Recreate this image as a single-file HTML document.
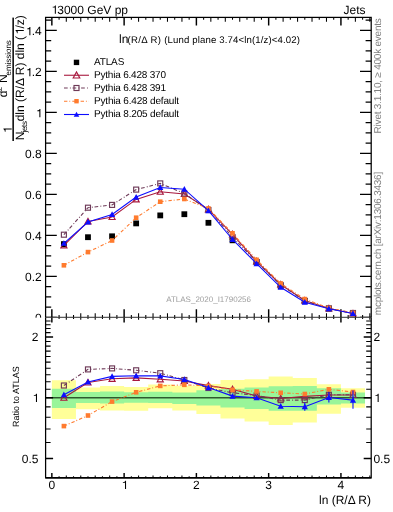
<!DOCTYPE html>
<html><head><meta charset="utf-8"><style>
html,body{margin:0;padding:0;background:#fff;width:393px;height:512px;overflow:hidden}
svg{display:block;will-change:transform}
svg,text{font-family:"Liberation Sans",sans-serif;text-rendering:geometricPrecision}
</style></head><body>
<svg width="393" height="512" viewBox="0 0 393 512">
<rect width="393" height="512" fill="#fff"/>
<path d="M720 0H900V1409H770C740 1290 640 1190 360 1170V1050H720Z" transform="translate(50.60,13.70) scale(0.005859,-0.005859)"/>
<text x="57.27" y="13.7" font-size="12">3000 GeV pp</text>
<text x="365.5" y="14.2" font-size="12" text-anchor="end">Jets</text>
<path d="M45.6 307.10H51.20M371.2 307.10H365.60M45.6 296.85H51.20M371.2 296.85H365.60M45.6 286.60H51.20M371.2 286.60H365.60M45.6 266.10H51.20M371.2 266.10H365.60M45.6 255.85H51.20M371.2 255.85H365.60M45.6 245.60H51.20M371.2 245.60H365.60M45.6 225.10H51.20M371.2 225.10H365.60M45.6 214.85H51.20M371.2 214.85H365.60M45.6 204.60H51.20M371.2 204.60H365.60M45.6 184.10H51.20M371.2 184.10H365.60M45.6 173.85H51.20M371.2 173.85H365.60M45.6 163.60H51.20M371.2 163.60H365.60M45.6 143.10H51.20M371.2 143.10H365.60M45.6 132.85H51.20M371.2 132.85H365.60M45.6 122.60H51.20M371.2 122.60H365.60M45.6 102.10H51.20M371.2 102.10H365.60M45.6 91.85H51.20M371.2 91.85H365.60M45.6 81.60H51.20M371.2 81.60H365.60M45.6 61.10H51.20M371.2 61.10H365.60M45.6 50.85H51.20M371.2 50.85H365.60M45.6 40.60H51.20M371.2 40.60H365.60M45.6 20.10H51.20M371.2 20.10H365.60M59.08 17.4V19.80M59.08 317.45V315.05M66.30 17.4V21.70M66.30 317.45V313.15M73.53 17.4V19.80M73.53 317.45V315.05M80.76 17.4V21.70M80.76 317.45V313.15M87.98 17.4V19.80M87.98 317.45V315.05M95.21 17.4V21.70M95.21 317.45V313.15M102.44 17.4V19.80M102.44 317.45V315.05M109.67 17.4V21.70M109.67 317.45V313.15M116.89 17.4V19.80M116.89 317.45V315.05M131.35 17.4V19.80M131.35 317.45V315.05M138.57 17.4V21.70M138.57 317.45V313.15M145.80 17.4V19.80M145.80 317.45V315.05M153.03 17.4V21.70M153.03 317.45V313.15M160.25 17.4V19.80M160.25 317.45V315.05M167.48 17.4V21.70M167.48 317.45V313.15M174.71 17.4V19.80M174.71 317.45V315.05M181.94 17.4V21.70M181.94 317.45V313.15M189.16 17.4V19.80M189.16 317.45V315.05M203.62 17.4V19.80M203.62 317.45V315.05M210.84 17.4V21.70M210.84 317.45V313.15M218.07 17.4V19.80M218.07 317.45V315.05M225.30 17.4V21.70M225.30 317.45V313.15M232.52 17.4V19.80M232.52 317.45V315.05M239.75 17.4V21.70M239.75 317.45V313.15M246.98 17.4V19.80M246.98 317.45V315.05M254.21 17.4V21.70M254.21 317.45V313.15M261.43 17.4V19.80M261.43 317.45V315.05M275.89 17.4V19.80M275.89 317.45V315.05M283.11 17.4V21.70M283.11 317.45V313.15M290.34 17.4V19.80M290.34 317.45V315.05M297.57 17.4V21.70M297.57 317.45V313.15M304.80 17.4V19.80M304.80 317.45V315.05M312.02 17.4V21.70M312.02 317.45V313.15M319.25 17.4V19.80M319.25 317.45V315.05M326.48 17.4V21.70M326.48 317.45V313.15M333.70 17.4V19.80M333.70 317.45V315.05M348.16 17.4V19.80M348.16 317.45V315.05M355.38 17.4V21.70M355.38 317.45V313.15M362.61 17.4V19.80M362.61 317.45V315.05M369.84 17.4V21.70M369.84 317.45V313.15" stroke="#000" stroke-width="1.05" fill="none"/>
<path d="M45.6 317.35H56.80M371.2 317.35H360.00M45.6 276.35H56.80M371.2 276.35H360.00M45.6 235.35H56.80M371.2 235.35H360.00M45.6 194.35H56.80M371.2 194.35H360.00M45.6 153.35H56.80M371.2 153.35H360.00M45.6 112.35H56.80M371.2 112.35H360.00M45.6 71.35H56.80M371.2 71.35H360.00M45.6 30.35H56.80M371.2 30.35H360.00M51.85 17.4V25.60M51.85 317.45V309.25M124.12 17.4V25.60M124.12 317.45V309.25M196.39 17.4V25.60M196.39 317.45V309.25M268.66 17.4V25.60M268.66 317.45V309.25M340.93 17.4V25.60M340.93 317.45V309.25" stroke="#000" stroke-width="1.45" fill="none"/>
<text x="41.8" y="322.30" font-size="12" text-anchor="end">0</text>
<text x="41.8" y="281.30" font-size="12" text-anchor="end">0.2</text>
<text x="41.8" y="240.30" font-size="12" text-anchor="end">0.4</text>
<text x="41.8" y="199.30" font-size="12" text-anchor="end">0.6</text>
<text x="41.8" y="158.30" font-size="12" text-anchor="end">0.8</text>
<path d="M720 0H900V1409H770C740 1290 640 1190 360 1170V1050H720Z" transform="translate(35.13,117.30) scale(0.005859,-0.005859)"/>
<path d="M720 0H900V1409H770C740 1290 640 1190 360 1170V1050H720Z" transform="translate(25.12,76.30) scale(0.005859,-0.005859)"/>
<text x="31.79" y="76.30" font-size="12">.2</text>
<path d="M720 0H900V1409H770C740 1290 640 1190 360 1170V1050H720Z" transform="translate(25.12,35.30) scale(0.005859,-0.005859)"/>
<text x="31.79" y="35.30" font-size="12">.4</text>
<text x="166.2" y="301.7" font-size="8" fill="#a0a0a0">ATLAS_2020_I1790256</text>
<clipPath id="cm"><rect x="45.6" y="17.4" width="325.60" height="300.05"/></clipPath>
<g clip-path="url(#cm)">
<rect x="60.99" y="241.20" width="5.8" height="5.8" fill="#000"/>
<rect x="85.08" y="234.30" width="5.8" height="5.8" fill="#000"/>
<rect x="109.17" y="233.40" width="5.8" height="5.8" fill="#000"/>
<rect x="133.26" y="220.50" width="5.8" height="5.8" fill="#000"/>
<rect x="157.35" y="212.50" width="5.8" height="5.8" fill="#000"/>
<rect x="181.44" y="211.30" width="5.8" height="5.8" fill="#000"/>
<rect x="205.53" y="219.90" width="5.8" height="5.8" fill="#000"/>
<rect x="229.62" y="237.40" width="5.8" height="5.8" fill="#000"/>
<rect x="253.72" y="259.10" width="5.8" height="5.8" fill="#000"/>
<rect x="277.81" y="283.10" width="5.8" height="5.8" fill="#000"/>
<rect x="301.90" y="297.90" width="5.8" height="5.8" fill="#000"/>
<rect x="325.99" y="305.60" width="5.8" height="5.8" fill="#000"/>
<rect x="350.08" y="310.30" width="5.8" height="5.8" fill="#000"/>
<path d="M63.89 245.40 L87.98 221.50 L112.08 217.00 L136.16 199.40 L160.25 191.70 L184.34 194.00 L208.43 209.40 L232.52 234.30 L256.62 261.40 L280.70 284.50 L304.80 300.50 L328.88 308.50 L352.98 313.50" stroke="#a8183e" stroke-width="1.1" fill="none"/>
<polygon points="60.84,247.93 66.94,247.93 63.89,242.31" fill="none" stroke="#a8183e" stroke-width="1.15"/>
<polygon points="84.94,224.03 91.03,224.03 87.98,218.41" fill="none" stroke="#a8183e" stroke-width="1.15"/>
<polygon points="109.03,219.53 115.12,219.53 112.08,213.91" fill="none" stroke="#a8183e" stroke-width="1.15"/>
<polygon points="133.11,201.93 139.22,201.93 136.16,196.31" fill="none" stroke="#a8183e" stroke-width="1.15"/>
<polygon points="157.20,194.23 163.31,194.23 160.25,188.61" fill="none" stroke="#a8183e" stroke-width="1.15"/>
<polygon points="181.29,196.53 187.39,196.53 184.34,190.91" fill="none" stroke="#a8183e" stroke-width="1.15"/>
<polygon points="205.38,211.93 211.48,211.93 208.43,206.31" fill="none" stroke="#a8183e" stroke-width="1.15"/>
<polygon points="229.47,236.83 235.57,236.83 232.52,231.21" fill="none" stroke="#a8183e" stroke-width="1.15"/>
<polygon points="253.56,263.93 259.67,263.93 256.62,258.31" fill="none" stroke="#a8183e" stroke-width="1.15"/>
<polygon points="277.65,287.03 283.75,287.03 280.70,281.41" fill="none" stroke="#a8183e" stroke-width="1.15"/>
<polygon points="301.75,303.03 307.85,303.03 304.80,297.41" fill="none" stroke="#a8183e" stroke-width="1.15"/>
<polygon points="325.83,311.03 331.94,311.03 328.88,305.41" fill="none" stroke="#a8183e" stroke-width="1.15"/>
<polygon points="349.93,316.03 356.03,316.03 352.98,310.41" fill="none" stroke="#a8183e" stroke-width="1.15"/>
<path d="M63.89 234.70 L87.98 207.70 L112.08 204.90 L136.16 189.60 L160.25 183.40 L184.34 193.50 L208.43 210.00 L232.52 237.00 L256.62 262.00 L280.70 285.00 L304.80 301.00 L328.88 308.50 L352.98 313.00" stroke="#6e3a58" stroke-width="1.1" fill="none" stroke-dasharray="3.7 2.2 0.9 1.75"/>
<rect x="61.39" y="232.20" width="5.0" height="5.0" fill="none" stroke="#6e3a58" stroke-width="1.15"/>
<rect x="85.48" y="205.20" width="5.0" height="5.0" fill="none" stroke="#6e3a58" stroke-width="1.15"/>
<rect x="109.58" y="202.40" width="5.0" height="5.0" fill="none" stroke="#6e3a58" stroke-width="1.15"/>
<rect x="133.66" y="187.10" width="5.0" height="5.0" fill="none" stroke="#6e3a58" stroke-width="1.15"/>
<rect x="157.75" y="180.90" width="5.0" height="5.0" fill="none" stroke="#6e3a58" stroke-width="1.15"/>
<rect x="181.84" y="191.00" width="5.0" height="5.0" fill="none" stroke="#6e3a58" stroke-width="1.15"/>
<rect x="205.93" y="207.50" width="5.0" height="5.0" fill="none" stroke="#6e3a58" stroke-width="1.15"/>
<rect x="230.02" y="234.50" width="5.0" height="5.0" fill="none" stroke="#6e3a58" stroke-width="1.15"/>
<rect x="254.12" y="259.50" width="5.0" height="5.0" fill="none" stroke="#6e3a58" stroke-width="1.15"/>
<rect x="278.20" y="282.50" width="5.0" height="5.0" fill="none" stroke="#6e3a58" stroke-width="1.15"/>
<rect x="302.30" y="298.50" width="5.0" height="5.0" fill="none" stroke="#6e3a58" stroke-width="1.15"/>
<rect x="326.38" y="306.00" width="5.0" height="5.0" fill="none" stroke="#6e3a58" stroke-width="1.15"/>
<rect x="350.48" y="310.50" width="5.0" height="5.0" fill="none" stroke="#6e3a58" stroke-width="1.15"/>
<path d="M63.89 265.30 L87.98 252.10 L112.08 240.50 L136.16 217.70 L160.25 201.70 L184.34 199.00 L208.43 208.50 L232.52 233.30 L256.62 259.80 L280.70 283.50 L304.80 299.10 L328.88 308.00 L352.98 313.00" stroke="#ff7b2e" stroke-width="1.1" fill="none" stroke-dasharray="3.4 1.9 0.9 2.1"/>
<rect x="61.59" y="263.00" width="4.6" height="4.6" fill="#ff7b2e"/>
<rect x="85.69" y="249.80" width="4.6" height="4.6" fill="#ff7b2e"/>
<rect x="109.78" y="238.20" width="4.6" height="4.6" fill="#ff7b2e"/>
<rect x="133.86" y="215.40" width="4.6" height="4.6" fill="#ff7b2e"/>
<rect x="157.95" y="199.40" width="4.6" height="4.6" fill="#ff7b2e"/>
<rect x="182.04" y="196.70" width="4.6" height="4.6" fill="#ff7b2e"/>
<rect x="206.13" y="206.20" width="4.6" height="4.6" fill="#ff7b2e"/>
<rect x="230.22" y="231.00" width="4.6" height="4.6" fill="#ff7b2e"/>
<rect x="254.31" y="257.50" width="4.6" height="4.6" fill="#ff7b2e"/>
<rect x="278.40" y="281.20" width="4.6" height="4.6" fill="#ff7b2e"/>
<rect x="302.50" y="296.80" width="4.6" height="4.6" fill="#ff7b2e"/>
<rect x="326.58" y="305.70" width="4.6" height="4.6" fill="#ff7b2e"/>
<rect x="350.68" y="310.70" width="4.6" height="4.6" fill="#ff7b2e"/>
<path d="M63.89 243.30 L87.98 222.00 L112.08 214.50 L136.16 197.10 L160.25 187.50 L184.34 189.20 L208.43 210.70 L232.52 239.50 L256.62 263.70 L280.70 287.30 L304.80 302.20 L328.88 308.70 L352.98 313.50" stroke="#0d0dff" stroke-width="1.1" fill="none"/>
<polygon points="60.79,245.87 66.99,245.87 63.89,240.16" fill="#0d0dff"/>
<polygon points="84.89,224.57 91.08,224.57 87.98,218.86" fill="#0d0dff"/>
<polygon points="108.98,217.07 115.17,217.07 112.08,211.36" fill="#0d0dff"/>
<polygon points="133.06,199.67 139.26,199.67 136.16,193.96" fill="#0d0dff"/>
<polygon points="157.16,190.07 163.35,190.07 160.25,184.36" fill="#0d0dff"/>
<polygon points="181.24,191.77 187.44,191.77 184.34,186.06" fill="#0d0dff"/>
<polygon points="205.33,213.27 211.53,213.27 208.43,207.56" fill="#0d0dff"/>
<polygon points="229.42,242.07 235.62,242.07 232.52,236.36" fill="#0d0dff"/>
<polygon points="253.52,266.27 259.72,266.27 256.62,260.56" fill="#0d0dff"/>
<polygon points="277.60,289.87 283.81,289.87 280.70,284.16" fill="#0d0dff"/>
<polygon points="301.69,304.77 307.90,304.77 304.80,299.06" fill="#0d0dff"/>
<polygon points="325.78,311.27 331.99,311.27 328.88,305.56" fill="#0d0dff"/>
<polygon points="349.88,316.07 356.08,316.07 352.98,310.36" fill="#0d0dff"/>
</g>
<rect x="45.6" y="17.4" width="325.60" height="300.05" fill="none" stroke="#000" stroke-width="1.25"/>
<rect x="73.80" y="59.70" width="5.4" height="5.4" fill="#000"/>
<path d="M64.00 75.25 L89.00 75.25" stroke="#a8183e" stroke-width="1.1" fill="none"/>
<polygon points="73.20,77.98 79.80,77.98 76.50,71.91" fill="none" stroke="#a8183e" stroke-width="1.15"/>
<path d="M64.00 88.00 L89.00 88.00" stroke="#6e3a58" stroke-width="1.1" fill="none" stroke-dasharray="3.7 2.2 0.9 1.75"/>
<rect x="74.00" y="85.50" width="5.0" height="5.0" fill="none" stroke="#6e3a58" stroke-width="1.15"/>
<path d="M64.00 101.20 L89.00 101.20" stroke="#ff7b2e" stroke-width="1.1" fill="none" stroke-dasharray="3.4 1.9 0.9 2.1"/>
<rect x="74.30" y="99.00" width="4.4" height="4.4" fill="#ff7b2e"/>
<path d="M64.00 114.50 L89.00 114.50" stroke="#0d0dff" stroke-width="1.1" fill="none"/>
<polygon points="73.70,116.82 79.30,116.82 76.50,111.67" fill="#0d0dff"/>
<text x="94" y="65.30" font-size="10" textLength="30.3" lengthAdjust="spacing">ATLAS</text>
<text x="94" y="78.15" font-size="10" textLength="72" lengthAdjust="spacing">Pythia 6.428 370</text>
<text x="94" y="90.90" font-size="10" textLength="72" lengthAdjust="spacing">Pythia 6.428 391</text>
<text x="94" y="104.10" font-size="10" textLength="85" lengthAdjust="spacing">Pythia 6.428 default</text>
<text x="94" y="117.40" font-size="10" textLength="85" lengthAdjust="spacing">Pythia 8.205 default</text>
<text x="119" y="42.7" font-size="12">ln</text>
<text x="127.6" y="42.7" font-size="9.6" textLength="33.4" lengthAdjust="spacing">(R/Δ R)</text>
<text x="164.2" y="42.7" font-size="9.6" textLength="135.8" lengthAdjust="spacing">(Lund plane 3.74&lt;ln(1/z)&lt;4.02)</text>
<g transform="rotate(-90)">
<rect x="-141" y="12.4" width="123.4" height="1.5" fill="#000"/>
<path d="M720 0H900V1409H770C740 1290 640 1190 360 1170V1050H720Z" transform="translate(-133.84,11.70) scale(0.005859,-0.005859)"/>
<text x="-140.3" y="23.8" font-size="12">N</text>
<text x="-132.4" y="27.0" font-size="8" textLength="11.4" lengthAdjust="spacing">jets</text>
<text x="-97.2" y="7.4" font-size="12">d</text>
<text x="-91.3" y="1.6" font-size="8">2</text>
<text x="-82.9" y="7.2" font-size="12">N</text>
<text x="-75.4" y="11.4" font-size="8" textLength="35.2" lengthAdjust="spacing">emissions</text>
<text x="-121.32" y="23.8" font-size="12">dln (R/Δ R) dln (</text>
<path d="M720 0H900V1409H770C740 1290 640 1190 360 1170V1050H720Z" transform="translate(-35.29,23.80) scale(0.005859,-0.005859)"/>
<text x="-28.62" y="23.8" font-size="12">/z)</text>
</g>
<g transform="rotate(-90)" fill="#808080" font-size="10">
<text x="-133.4" y="380.6" textLength="115.2" lengthAdjust="spacing">Rivet 3.1.10, ≥ 400k events</text>
<text x="-315.2" y="380.7" textLength="143.4" lengthAdjust="spacing">mcplots.cern.ch [arXiv:1306.3436]</text>
</g>
<rect x="0" y="317.65" width="393" height="194.55" fill="#fff"/>
<path d="M51.85 380.20 L75.94 380.20 L75.94 387.60 L100.03 387.60 L100.03 386.10 L124.12 386.10 L124.12 387.00 L148.21 387.00 L148.21 384.50 L172.30 384.50 L172.30 385.80 L196.39 385.80 L196.39 384.00 L220.48 384.00 L220.48 379.90 L244.57 379.90 L244.57 379.30 L268.66 379.30 L268.66 376.50 L292.75 376.50 L292.75 378.10 L316.84 378.10 L316.84 384.30 L340.93 384.30 L340.93 388.30 L365.02 388.30 L365.02 407.70 L340.93 407.70 L340.93 413.80 L316.84 413.80 L316.84 422.50 L292.75 422.50 L292.75 425.00 L268.66 425.00 L268.66 421.50 L244.57 421.50 L244.57 418.50 L220.48 418.50 L220.48 414.00 L196.39 414.00 L196.39 410.50 L172.30 410.50 L172.30 408.30 L148.21 408.30 L148.21 410.80 L124.12 410.80 L124.12 410.50 L100.03 410.50 L100.03 409.30 L75.94 409.30 L75.94 418.90 L51.85 418.90Z" fill="#ffff99"/>
<path d="M51.85 388.80 L75.94 388.80 L75.94 392.00 L100.03 392.00 L100.03 391.60 L124.12 391.60 L124.12 392.30 L148.21 392.30 L148.21 391.80 L172.30 391.80 L172.30 392.50 L196.39 392.50 L196.39 390.20 L220.48 390.20 L220.48 388.80 L244.57 388.80 L244.57 387.60 L268.66 387.60 L268.66 386.30 L292.75 386.30 L292.75 385.90 L316.84 385.90 L316.84 388.30 L340.93 388.30 L340.93 392.40 L365.02 392.40 L365.02 403.60 L340.93 403.60 L340.93 404.60 L316.84 404.60 L316.84 410.70 L292.75 410.70 L292.75 410.70 L268.66 410.70 L268.66 409.00 L244.57 409.00 L244.57 407.50 L220.48 407.50 L220.48 405.50 L196.39 405.50 L196.39 404.00 L172.30 404.00 L172.30 403.00 L148.21 403.00 L148.21 402.70 L124.12 402.70 L124.12 403.40 L100.03 403.40 L100.03 403.00 L75.94 403.00 L75.94 407.90 L51.85 407.90Z" fill="#99f599"/>
<path d="M45.6 397.65H371.2" stroke="#2f5a2f" stroke-width="1.5"/>
<clipPath id="cr"><rect x="45.6" y="317.45" width="325.60" height="160.35"/></clipPath>
<g clip-path="url(#cr)">
<path d="M63.89 397.70 L87.98 382.50 L112.08 378.80 L136.16 377.90 L160.25 379.30 L184.34 381.00 L208.43 385.60 L232.52 389.30 L256.62 396.00 L280.70 398.50 L304.80 396.40 L328.88 395.00 L352.98 395.00" stroke="#a8183e" stroke-width="1.1" fill="none"/>
<polygon points="60.84,400.23 66.94,400.23 63.89,394.61" fill="none" stroke="#a8183e" stroke-width="1.15"/>
<polygon points="84.94,385.03 91.03,385.03 87.98,379.41" fill="none" stroke="#a8183e" stroke-width="1.15"/>
<polygon points="109.03,381.33 115.12,381.33 112.08,375.71" fill="none" stroke="#a8183e" stroke-width="1.15"/>
<polygon points="133.11,380.43 139.22,380.43 136.16,374.81" fill="none" stroke="#a8183e" stroke-width="1.15"/>
<polygon points="157.20,381.83 163.31,381.83 160.25,376.21" fill="none" stroke="#a8183e" stroke-width="1.15"/>
<polygon points="181.29,383.53 187.39,383.53 184.34,377.91" fill="none" stroke="#a8183e" stroke-width="1.15"/>
<polygon points="205.38,388.13 211.48,388.13 208.43,382.51" fill="none" stroke="#a8183e" stroke-width="1.15"/>
<polygon points="229.47,391.83 235.57,391.83 232.52,386.21" fill="none" stroke="#a8183e" stroke-width="1.15"/>
<polygon points="253.56,398.53 259.67,398.53 256.62,392.91" fill="none" stroke="#a8183e" stroke-width="1.15"/>
<polygon points="277.65,401.03 283.75,401.03 280.70,395.41" fill="none" stroke="#a8183e" stroke-width="1.15"/>
<polygon points="301.75,398.93 307.85,398.93 304.80,393.31" fill="none" stroke="#a8183e" stroke-width="1.15"/>
<polygon points="325.83,397.53 331.94,397.53 328.88,391.91" fill="none" stroke="#a8183e" stroke-width="1.15"/>
<polygon points="349.93,397.53 356.03,397.53 352.98,391.91" fill="none" stroke="#a8183e" stroke-width="1.15"/>
<path d="M63.89 385.50 L87.98 369.40 L112.08 368.40 L136.16 370.30 L160.25 373.20 L184.34 380.00 L208.43 388.00 L232.52 392.80 L256.62 395.50 L280.70 400.10 L304.80 400.10 L328.88 394.80 L352.98 394.80" stroke="#6e3a58" stroke-width="1.1" fill="none" stroke-dasharray="3.7 2.2 0.9 1.75"/>
<rect x="61.39" y="383.00" width="5.0" height="5.0" fill="none" stroke="#6e3a58" stroke-width="1.15"/>
<rect x="85.48" y="366.90" width="5.0" height="5.0" fill="none" stroke="#6e3a58" stroke-width="1.15"/>
<rect x="109.58" y="365.90" width="5.0" height="5.0" fill="none" stroke="#6e3a58" stroke-width="1.15"/>
<rect x="133.66" y="367.80" width="5.0" height="5.0" fill="none" stroke="#6e3a58" stroke-width="1.15"/>
<rect x="157.75" y="370.70" width="5.0" height="5.0" fill="none" stroke="#6e3a58" stroke-width="1.15"/>
<rect x="181.84" y="377.50" width="5.0" height="5.0" fill="none" stroke="#6e3a58" stroke-width="1.15"/>
<rect x="205.93" y="385.50" width="5.0" height="5.0" fill="none" stroke="#6e3a58" stroke-width="1.15"/>
<rect x="230.02" y="390.30" width="5.0" height="5.0" fill="none" stroke="#6e3a58" stroke-width="1.15"/>
<rect x="254.12" y="393.00" width="5.0" height="5.0" fill="none" stroke="#6e3a58" stroke-width="1.15"/>
<rect x="278.20" y="397.60" width="5.0" height="5.0" fill="none" stroke="#6e3a58" stroke-width="1.15"/>
<rect x="302.30" y="397.60" width="5.0" height="5.0" fill="none" stroke="#6e3a58" stroke-width="1.15"/>
<rect x="326.38" y="392.30" width="5.0" height="5.0" fill="none" stroke="#6e3a58" stroke-width="1.15"/>
<rect x="350.48" y="392.30" width="5.0" height="5.0" fill="none" stroke="#6e3a58" stroke-width="1.15"/>
<path d="M63.89 426.10 L87.98 415.50 L112.08 401.60 L136.16 392.30 L160.25 385.90 L184.34 384.80 L208.43 386.00 L232.52 389.80 L256.62 391.40 L280.70 392.80 L304.80 394.00 L328.88 389.30 L352.98 392.00" stroke="#ff7b2e" stroke-width="1.1" fill="none" stroke-dasharray="3.4 1.9 0.9 2.1"/>
<rect x="61.59" y="423.80" width="4.6" height="4.6" fill="#ff7b2e"/>
<rect x="85.69" y="413.20" width="4.6" height="4.6" fill="#ff7b2e"/>
<rect x="109.78" y="399.30" width="4.6" height="4.6" fill="#ff7b2e"/>
<rect x="133.86" y="390.00" width="4.6" height="4.6" fill="#ff7b2e"/>
<rect x="157.95" y="383.60" width="4.6" height="4.6" fill="#ff7b2e"/>
<rect x="182.04" y="382.50" width="4.6" height="4.6" fill="#ff7b2e"/>
<rect x="206.13" y="383.70" width="4.6" height="4.6" fill="#ff7b2e"/>
<rect x="230.22" y="387.50" width="4.6" height="4.6" fill="#ff7b2e"/>
<rect x="254.31" y="389.10" width="4.6" height="4.6" fill="#ff7b2e"/>
<rect x="278.40" y="390.50" width="4.6" height="4.6" fill="#ff7b2e"/>
<rect x="302.50" y="391.70" width="4.6" height="4.6" fill="#ff7b2e"/>
<rect x="326.58" y="387.00" width="4.6" height="4.6" fill="#ff7b2e"/>
<rect x="350.68" y="389.70" width="4.6" height="4.6" fill="#ff7b2e"/>
<path d="M63.89 394.70 L87.98 381.90 L112.08 376.40 L136.16 375.80 L160.25 375.90 L184.34 379.50 L208.43 387.60 L232.52 396.10 L256.62 397.80 L280.70 406.20 L304.80 406.70 L328.88 397.50 L352.98 400.10" stroke="#0d0dff" stroke-width="1.1" fill="none"/>
<path d="M304.80 402.6V410.7" stroke="#0d0dff" stroke-width="1.1"/>
<path d="M328.88 392.0V402.6" stroke="#0d0dff" stroke-width="1.1"/>
<path d="M352.98 390.4V408.7" stroke="#0d0dff" stroke-width="1.1"/>
<polygon points="60.79,397.27 66.99,397.27 63.89,391.56" fill="#0d0dff"/>
<polygon points="84.89,384.47 91.08,384.47 87.98,378.76" fill="#0d0dff"/>
<polygon points="108.98,378.97 115.17,378.97 112.08,373.26" fill="#0d0dff"/>
<polygon points="133.06,378.37 139.26,378.37 136.16,372.66" fill="#0d0dff"/>
<polygon points="157.16,378.47 163.35,378.47 160.25,372.76" fill="#0d0dff"/>
<polygon points="181.24,382.07 187.44,382.07 184.34,376.36" fill="#0d0dff"/>
<polygon points="205.33,390.17 211.53,390.17 208.43,384.46" fill="#0d0dff"/>
<polygon points="229.42,398.67 235.62,398.67 232.52,392.96" fill="#0d0dff"/>
<polygon points="253.52,400.37 259.72,400.37 256.62,394.66" fill="#0d0dff"/>
<polygon points="277.60,408.77 283.81,408.77 280.70,403.06" fill="#0d0dff"/>
<polygon points="301.69,409.27 307.90,409.27 304.80,403.56" fill="#0d0dff"/>
<polygon points="325.78,400.07 331.99,400.07 328.88,394.36" fill="#0d0dff"/>
<polygon points="349.88,402.67 356.08,402.67 352.98,396.96" fill="#0d0dff"/>
</g>
<path d="M45.6 442.42H50.60M371.2 442.42H366.20M45.6 428.91H50.60M371.2 428.91H366.20M45.6 417.21H50.60M371.2 417.21H366.20M45.6 406.88H50.60M371.2 406.88H366.20M45.6 389.30H50.60M371.2 389.30H366.20M45.6 381.67H50.60M371.2 381.67H366.20M45.6 374.66H50.60M371.2 374.66H366.20M45.6 368.16H50.60M371.2 368.16H366.20M45.6 362.11H50.60M371.2 362.11H366.20M45.6 356.46H50.60M371.2 356.46H366.20M45.6 351.14H50.60M371.2 351.14H366.20M45.6 346.13H50.60M371.2 346.13H366.20M45.6 341.40H50.60M371.2 341.40H366.20M45.6 332.62H50.60M371.2 332.62H366.20M45.6 328.55H50.60M371.2 328.55H366.20M45.6 324.65H50.60M371.2 324.65H366.20M45.6 320.92H50.60M371.2 320.92H366.20M59.08 317.45V318.95M59.08 477.8V476.30M66.30 317.45V319.85M66.30 477.8V475.40M73.53 317.45V318.95M73.53 477.8V476.30M80.76 317.45V319.85M80.76 477.8V475.40M87.98 317.45V318.95M87.98 477.8V476.30M95.21 317.45V319.85M95.21 477.8V475.40M102.44 317.45V318.95M102.44 477.8V476.30M109.67 317.45V319.85M109.67 477.8V475.40M116.89 317.45V318.95M116.89 477.8V476.30M131.35 317.45V318.95M131.35 477.8V476.30M138.57 317.45V319.85M138.57 477.8V475.40M145.80 317.45V318.95M145.80 477.8V476.30M153.03 317.45V319.85M153.03 477.8V475.40M160.25 317.45V318.95M160.25 477.8V476.30M167.48 317.45V319.85M167.48 477.8V475.40M174.71 317.45V318.95M174.71 477.8V476.30M181.94 317.45V319.85M181.94 477.8V475.40M189.16 317.45V318.95M189.16 477.8V476.30M203.62 317.45V318.95M203.62 477.8V476.30M210.84 317.45V319.85M210.84 477.8V475.40M218.07 317.45V318.95M218.07 477.8V476.30M225.30 317.45V319.85M225.30 477.8V475.40M232.52 317.45V318.95M232.52 477.8V476.30M239.75 317.45V319.85M239.75 477.8V475.40M246.98 317.45V318.95M246.98 477.8V476.30M254.21 317.45V319.85M254.21 477.8V475.40M261.43 317.45V318.95M261.43 477.8V476.30M275.89 317.45V318.95M275.89 477.8V476.30M283.11 317.45V319.85M283.11 477.8V475.40M290.34 317.45V318.95M290.34 477.8V476.30M297.57 317.45V319.85M297.57 477.8V475.40M304.80 317.45V318.95M304.80 477.8V476.30M312.02 317.45V319.85M312.02 477.8V475.40M319.25 317.45V318.95M319.25 477.8V476.30M326.48 317.45V319.85M326.48 477.8V475.40M333.70 317.45V318.95M333.70 477.8V476.30M348.16 317.45V318.95M348.16 477.8V476.30M355.38 317.45V319.85M355.38 477.8V475.40M362.61 317.45V318.95M362.61 477.8V476.30M369.84 317.45V319.85M369.84 477.8V475.40" stroke="#000" stroke-width="1.05" fill="none"/>
<path d="M45.6 458.40H53.10M371.2 458.40H363.70M45.6 397.65H53.10M371.2 397.65H363.70M45.6 336.90H53.10M371.2 336.90H363.70M51.85 317.45V322.45M51.85 477.8V473.00M124.12 317.45V322.45M124.12 477.8V473.00M196.39 317.45V322.45M196.39 477.8V473.00M268.66 317.45V322.45M268.66 477.8V473.00M340.93 317.45V322.45M340.93 477.8V473.00" stroke="#000" stroke-width="1.45" fill="none"/>
<path d="M45.6 317.45V477.8H371.2V317.45" fill="none" stroke="#000" stroke-width="1.25"/>
<path d="M45.6 477.8H371.2" fill="none" stroke="#000" stroke-width="1.6"/>
<text x="38.4" y="341.15" font-size="12" text-anchor="end">2</text>
<text x="373.4" y="341.15" font-size="12">2</text>
<path d="M720 0H900V1409H770C740 1290 640 1190 360 1170V1050H720Z" transform="translate(31.73,401.90) scale(0.005859,-0.005859)"/>
<path d="M720 0H900V1409H770C740 1290 640 1190 360 1170V1050H720Z" transform="translate(373.40,401.90) scale(0.005859,-0.005859)"/>
<text x="38.4" y="462.65" font-size="12" text-anchor="end">0.5</text>
<text x="373.4" y="462.65" font-size="12">0.5</text>
<text transform="rotate(-90)" x="-396.6" y="18.7" font-size="9" text-anchor="middle">Ratio to ATLAS</text>
<text x="51.85" y="488.9" font-size="12" text-anchor="middle">0</text>
<path d="M720 0H900V1409H770C740 1290 640 1190 360 1170V1050H720Z" transform="translate(120.78,488.90) scale(0.005859,-0.005859)"/>
<text x="196.39" y="488.9" font-size="12" text-anchor="middle">2</text>
<text x="268.66" y="488.9" font-size="12" text-anchor="middle">3</text>
<text x="340.93" y="488.9" font-size="12" text-anchor="middle">4</text>
<text x="371" y="503.9" font-size="12" text-anchor="end">ln (R/Δ R)</text>
</svg>
</body></html>
